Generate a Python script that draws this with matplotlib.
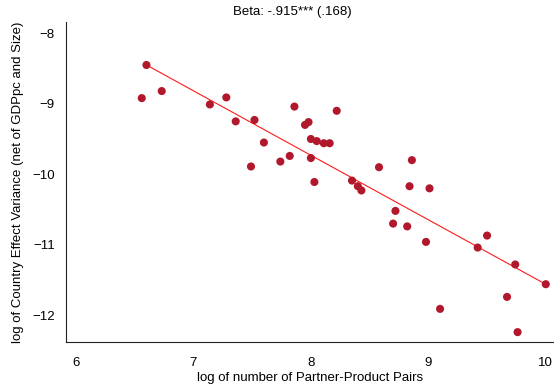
import numpy as np
import matplotlib
matplotlib.use("Agg")
import matplotlib.pyplot as plt

# log of number of partner-product pairs
pairs_log = [6.60, 6.56, 6.73, 7.14, 7.28, 7.36, 7.52, 7.60, 7.49, 7.74,
             7.82, 7.86, 7.95, 7.98, 8.00, 8.05, 8.11, 8.16, 8.00, 8.03,
             8.22, 8.35, 8.40, 8.43, 8.58, 8.86, 8.84, 9.01, 8.72, 8.70,
             8.82, 8.98, 9.42, 9.50, 9.74, 10.00, 9.67, 9.10, 9.76]
# log of country effect variance (net of GDPpc and size)
variance_log = [-8.45, -8.92, -8.82, -9.01, -8.91, -9.25, -9.23, -9.55, -9.89, -9.82,
                -9.74, -9.04, -9.30, -9.26, -9.50, -9.53, -9.56, -9.56, -9.77, -10.11,
                -9.10, -10.09, -10.17, -10.23, -9.90, -9.80, -10.17, -10.20, -10.52, -10.70,
                -10.74, -10.96, -11.04, -10.87, -11.28, -11.56, -11.74, -11.91, -12.24]

# fitted line
beta = -0.915
intercept = -2.411
fit_range = [6.60, 10.00]

title_text = "Beta: -.915*** (.168)"
x_ticks = [6, 7, 8, 9, 10]
y_ticks = [-12, -11, -10, -9, -8]

plt.rcParams['font.family'] = ['Liberation Sans', 'DejaVu Sans']

fig = plt.figure(figsize=(5.54, 3.91), dpi=100)
ax = fig.add_axes([66 / 554, 1 - 342 / 391, (554 - 66) / 554, (342 - 22) / 391])

x = np.array(pairs_log)
y = np.array(variance_log)
ax.scatter(x, y, s=34, color="#b2182b", edgecolors="none", zorder=3)

fit_x = np.array(fit_range)
ax.plot(fit_x, intercept + beta * fit_x, color="#ff1a1a", lw=0.8, zorder=2)

ax.set_xlim(5.915, 10.07)
ax.set_ylim(-12.38, -7.84)
ax.set_xticks(x_ticks)
ax.set_yticks(y_ticks)
ax.tick_params(length=0, labelsize=9.5)
ax.tick_params(axis='x', pad=11)
ax.tick_params(axis='y', pad=8)
for side in ["top", "right"]:
    ax.spines[side].set_visible(False)
for side in ["left", "bottom"]:
    ax.spines[side].set_linewidth(0.8)
    ax.spines[side].set_color("#222222")

ax.set_xlabel("log of number of Partner-Product Pairs", fontsize=9.5, labelpad=2)
ax.set_ylabel("log of Country Effect Variance (net of GDPpc and Size)", fontsize=9.5, labelpad=6)
ax.set_title(title_text, fontsize=9.5, x=0.463, pad=5)

fig.savefig("out.png", dpi=100)
